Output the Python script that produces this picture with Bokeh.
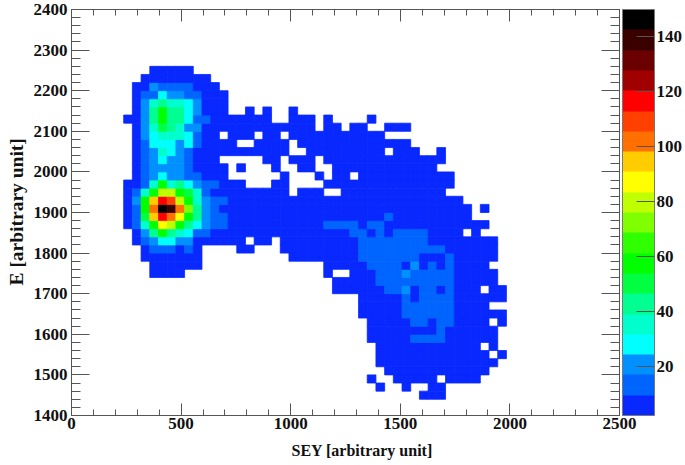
from bokeh.embed import file_html
from bokeh.resources import INLINE
from bokeh.plotting import figure
from bokeh.models import (ColumnDataSource, LinearColorMapper, ColorBar, LinearAxis, Title,
                          SingleIntervalTicker, CustomJSTickFormatter)

# colour scale
count_low, count_high = 2, 150
palette = ["#0828ff", "#0064ff", "#0090ff", "#00ffff", "#00ffcc", "#00ff90", "#00ff40",
           "#00ff00", "#30ff00", "#7fff00", "#bfff00", "#ffff00", "#ffcc00", "#ff7000",
           "#ff4000", "#ff0000", "#a00000", "#6b0000", "#3a0000", "#000000"]

# histogram binning
sey_bins = 63
sey_range = (0, 2500)
e_step = 20
e_range = (1400, 2400)

# Each row: runs of occupied bins. (first_bin, "levels") gives one colour level per bin
# (base 36, 1 = lowest colour band); (first_bin, last_bin) is a run of lowest-level bins.
e_1440 = [(40, 42)]
e_1460 = [(35, 35), (38, 38), (41, 42)]
e_1480 = [(34, 34), (37, 41), (43, 46)]
e_1500 = [(36, 47)]
e_1520 = [(35, 48)]
e_1540 = [(35, 47), (49, 49)]
e_1560 = [(35, 46), (48, 48)]
e_1580 = [(34, 38), (39, "2222"), (43, 48)]
e_1600 = [(34, 41), (42, "2"), (43, 48)]
e_1620 = [(34, 38), (39, "22"), (41, 41), (42, "22"), (44, 47), (49, 49)]
e_1640 = [(33, 37), (38, "222222"), (44, 49)]
e_1660 = [(33, 37), (38, "222222"), (44, 47)]
e_1680 = [(33, 37), (38, "2"), (39, 39), (40, "2222"), (44, 49)]
e_1700 = [(30, 35), (36, "223"), (39, 39), (40, "22"), (42, 42), (43, "2"), (44, 46), (48, 49)]
e_1720 = [(30, 34), (35, "222222222"), (44, 48)]
e_1740 = [(9, 12), (29, 29), (32, 34), (35, "222322222"), (44, 48)]
e_1760 = [(9, 14), (29, 33), (34, "2222131212"), (44, 47)]
e_1780 = [(8, 14), (25, 32), (33, "2222222"), (40, 42), (43, "2"), (44, 48)]
e_1800 = [(8, "1222121"), (19, 20), (24, 32), (33, "2222222222"), (43, 48)]
e_1820 = [(7, "12344331"), (15, 19), (21, 22), (24, 32), (33, "22222222"), (41, 48)]
e_1840 = [(7, "136865422"), (16, 31), (32, "22"), (34, 34), (35, "2"), (36, 36),
          (37, "2222"), (41, 44), (46, 46)]
e_1860 = [(6, "1258cb864322"), (18, 28), (29, "2222"), (33, 33), (34, "22"), (36, 47)]
e_1880 = [(6, "127dgec86322"), (18, 35), (36, "2"), (37, 45)]
e_1900 = [(6, "128ekjea632"), (17, 45), (47, 47)]
e_1920 = [(6, "138dgfb85322"), (18, 44)]
e_1940 = [(6, "1258bb8752"), (16, 24), (26, 28), (31, 42)]
e_1960 = [(6, "11258564"), (14, "322"), (17, 19), (23, 24), (29, 43)]
e_1980 = [(7, "12343322"), (15, 17), (24, 24), (28, 28), (30, 31), (33, 43)]
e_2000 = [(7, "1233332"), (14, 17), (19, 19), (23, 23), (26, 27), (30, 41)]
e_2020 = [(7, "1234332"), (14, 16), (22, 23), (25, 27), (29, 42)]
e_2040 = [(7, "1235432"), (14, 24), (27, 35), (37, 39), (42, 42)]
e_2060 = [(7, "12444342"), (15, 18), (21, 24), (26, 38)]
e_2080 = [(7, "13455542"), (15, 16), (18, 20), (22, 23), (25, 35)]
e_2100 = [(7, "13576533"), (15, 27), (29, 30), (32, 33), (36, 38)]
e_2120 = [(6, "1136866422"), (16, 22), (25, 27), (29, 29), (34, 34)]
e_2140 = [(7, "13686643"), (15, 17), (20, 20), (22, 22), (25, 25)]
e_2160 = [(7, "13565543"), (15, 17)]
e_2180 = [(7, "12243322"), (15, 17)]
e_2200 = [(7, "1132222"), (14, 16)]
e_2220 = [(8, 15)]
e_2240 = [(9, 13)]

rows = [(1440, e_1440), (1460, e_1460), (1480, e_1480), (1500, e_1500), (1520, e_1520),
        (1540, e_1540), (1560, e_1560), (1580, e_1580), (1600, e_1600), (1620, e_1620),
        (1640, e_1640), (1660, e_1660), (1680, e_1680), (1700, e_1700), (1720, e_1720),
        (1740, e_1740), (1760, e_1760), (1780, e_1780), (1800, e_1800), (1820, e_1820),
        (1840, e_1840), (1860, e_1860), (1880, e_1880), (1900, e_1900), (1920, e_1920),
        (1940, e_1940), (1960, e_1960), (1980, e_1980), (2000, e_2000), (2020, e_2020),
        (2040, e_2040), (2060, e_2060), (2080, e_2080), (2100, e_2100), (2120, e_2120),
        (2140, e_2140), (2160, e_2160), (2180, e_2180), (2200, e_2200), (2220, e_2220),
        (2240, e_2240)]

band = (count_high - count_low) / len(palette)
sey_step = (sey_range[1] - sey_range[0]) / sey_bins
left, right, bottom, top, counts = [], [], [], [], []
for e0, runs in rows:
    for a, b in runs:
        if isinstance(b, str):
            cells = [(a + k, int(c, 36)) for k, c in enumerate(b)]
        else:
            cells = [(k, 1) for k in range(a, b + 1)]
        for i, lv in cells:
            left.append(i * sey_step)
            right.append((i + 1) * sey_step)
            bottom.append(e0)
            top.append(e0 + e_step)
            counts.append(count_low + (lv - 0.5) * band)

source = ColumnDataSource(dict(left=left, right=right, bottom=bottom, top=top, count=counts))
mapper = LinearColorMapper(palette=palette, low=count_low, high=count_high)

FONT = "Liberation Serif"
LINE = "#555555"
INK = "#111111"

p = figure(frame_width=548, frame_height=406,
           x_range=sey_range, y_range=e_range, x_axis_type=None, y_axis_type=None,
           output_backend="svg", toolbar_location=None,
           min_border_left=71, min_border_right=0, min_border_top=9, min_border_bottom=50,
           outline_line_color=None, margin=(0, 0, 0, 0))
p.grid.visible = False

cmap = {"field": "count", "transform": mapper}
p.quad(left="left", right="right", bottom="bottom", top="top", source=source,
       fill_color=cmap, line_color=cmap, line_width=0.8)

empty = CustomJSTickFormatter(code="return ''")


def style(ax, major, minor):
    ax.axis_line_color = LINE
    ax.major_tick_line_color = LINE
    ax.minor_tick_line_color = LINE
    ax.major_tick_in = major
    ax.major_tick_out = 0
    ax.minor_tick_in = minor
    ax.minor_tick_out = 0
    ax.major_label_text_font = FONT
    ax.major_label_text_font_style = "bold"
    ax.major_label_text_font_size = "17px"
    ax.major_label_text_color = INK


def xticks():
    return SingleIntervalTicker(interval=500, num_minor_ticks=5)


def yticks():
    return SingleIntervalTicker(interval=100, num_minor_ticks=5)


xb = LinearAxis(ticker=xticks(), major_label_standoff=2)
yl = LinearAxis(ticker=yticks(), major_label_standoff=4)
xt = LinearAxis(ticker=xticks(), formatter=empty)
yr = LinearAxis(ticker=yticks(), formatter=empty)
for ax in (xb, xt):
    style(ax, 12, 6)
for ax in (yl, yr):
    style(ax, 18, 9)
p.add_layout(xb, "below")
p.add_layout(yl, "left")
p.add_layout(xt, "above")
p.add_layout(yr, "right")

p.add_layout(Title(text="SEY [arbitrary unit]", align="left", offset=220, standoff=16,
                   text_font=FONT, text_font_style="bold", text_font_size="16px",
                   text_color=INK), "below")
p.add_layout(Title(text="E [arbitrary unit]", align="left", offset=130, standoff=7,
                   text_font=FONT, text_font_style="bold", text_font_size="19.5px",
                   text_color=INK), "left")

cb = ColorBar(color_mapper=mapper, width=32, height=406,
              ticker=SingleIntervalTicker(interval=20), padding=0, margin=0,
              location=(3, 0),
              bar_line_color="#777777", major_tick_line_color=LINE, major_tick_in=18,
              major_tick_out=0, minor_tick_line_color=None, label_standoff=2,
              major_label_text_font=FONT, major_label_text_font_style="bold",
              major_label_text_font_size="17px", major_label_text_color=INK,
              border_line_color=None, background_fill_color=None)
p.add_layout(cb, "right")

open("out.html", "w").write(file_html(p, INLINE))
